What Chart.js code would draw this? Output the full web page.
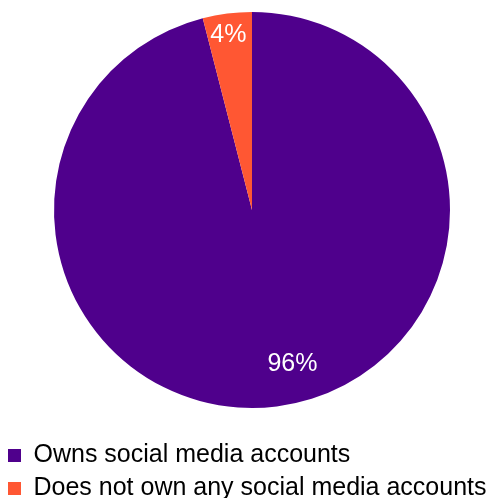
<!DOCTYPE html>
<html>
<head>
<meta charset="utf-8">
<script src="https://cdn.jsdelivr.net/npm/chart.js@4"></script>
<style>
  html, body { margin: 0; padding: 0; background: #fff; overflow: hidden; }
  #wrap { width: 504px; height: 498px; }
</style>
</head>
<body>
<div id="wrap"><canvas id="socialChart" width="504" height="498"></canvas></div>
<script>
const categories = ['Owns social media accounts', 'Does not own any social media accounts'];
const shares = [96, 4];
const sliceColors = ['#4f008c', '#ff5733'];

// where each percentage sits inside its slice
const labelRadius = [0.805, 0.89];
const labelAngleShift = [-7.5, -0.5];

// white percentage text inside the slices
const sliceLabels = {
  id: 'sliceLabels',
  afterDatasetsDraw(chart) {
    const ctx = chart.ctx;
    const meta = chart.getDatasetMeta(0);
    ctx.save();
    ctx.fillStyle = '#fff';
    ctx.font = '25px "Liberation Sans", Arial, sans-serif';
    ctx.textAlign = 'center';
    ctx.textBaseline = 'middle';
    meta.data.forEach((arc, i) => {
      const { x, y, startAngle, endAngle, outerRadius } = arc.getProps(['x', 'y', 'startAngle', 'endAngle', 'outerRadius'], true);
      const mid = (startAngle + endAngle) / 2 + labelAngleShift[i] * Math.PI / 180;
      const r = outerRadius * labelRadius[i];
      ctx.fillText(shares[i] + '%', x + Math.cos(mid) * r, y + Math.sin(mid) * r);
    });
    ctx.restore();
  }
};

new Chart(document.getElementById('socialChart'), {
  type: 'pie',
  data: {
    labels: categories,
    datasets: [{
      data: shares,
      backgroundColor: sliceColors,
      borderWidth: 0
    }]
  },
  options: {
    responsive: false,
    animation: false,
    layout: { padding: { top: 12, left: 0, right: 0, bottom: -13 } },
    plugins: {
      tooltip: { enabled: false },
      legend: {
        position: 'bottom',
        align: 'start',
        // empty title only adds room between the pie and the legend rows
        title: { display: true, text: '', font: { size: 15, lineHeight: 1 }, padding: { top: 5, bottom: 7 } },
        labels: {
          color: '#000',
          boxWidth: 13,
          boxHeight: 13,
          padding: 8,
          font: { family: '"Liberation Sans", Arial, sans-serif', size: 25 }
        }
      }
    }
  },
  plugins: [sliceLabels]
});
</script>
</body>
</html>
